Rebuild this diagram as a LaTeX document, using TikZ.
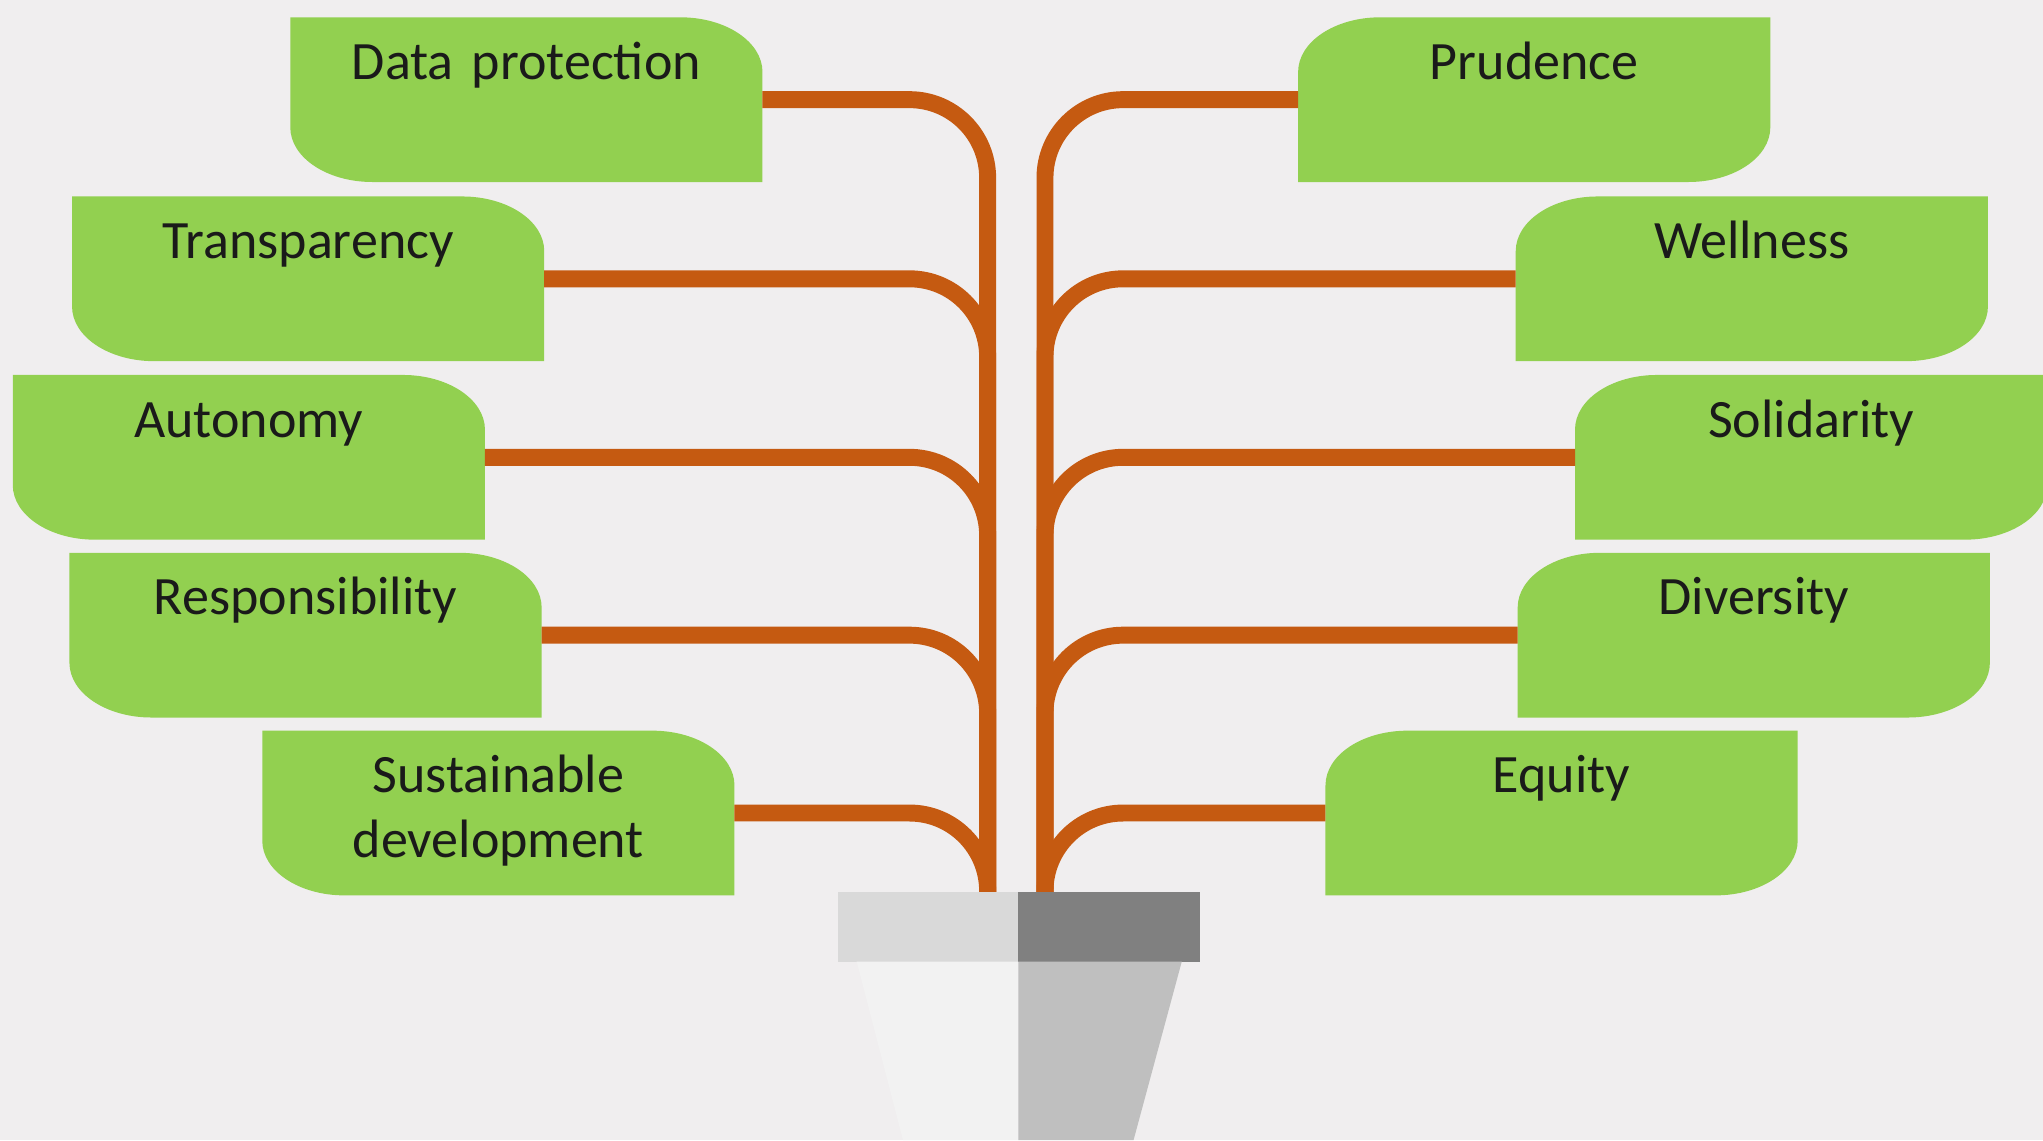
\documentclass[tikz,border=0pt]{standalone}
\usepackage{fontspec}
\setmainfont{Carlito}
\usepackage{tikz}
\usepackage{xcolor}
\usetikzlibrary{backgrounds}

\definecolor{leafgreen}{RGB}{146,208,80}
\definecolor{stemorange}{RGB}{197,90,17}
\definecolor{bgpaper}{RGB}{240,238,239}
\definecolor{leaftext}{RGB}{26,26,26}

\tikzset{
  leaf/.style={inner sep=0pt, text width=3.61cm, align=center,
    text height=0.47cm, text depth=0.78cm, text=leaftext,
    font=\fontsize{11.8}{14.2}\selectfont},
  stem/.style={stemorange, line width=0.13cm, rounded corners=0.6cm},
}

% leaf with round top-right and bottom-left corners
\newcommand\leafleft[1]{\fill[leafgreen] (#1.north west)
  -- ([xshift=-6.3mm]#1.north east) arc[start angle=90, end angle=0, x radius=6.3mm, y radius=4.2mm]
  -- (#1.south east)
  -- ([xshift=6.3mm]#1.south west) arc[start angle=270, end angle=180, x radius=6.3mm, y radius=4.2mm]
  -- cycle;}
% leaf with round top-left and bottom-right corners
\newcommand\leafright[1]{\fill[leafgreen] (#1.north east)
  -- ([yshift=4.2mm]#1.south east) arc[start angle=0, end angle=-90, x radius=6.3mm, y radius=4.2mm]
  -- (#1.south west)
  -- ([yshift=-4.2mm]#1.north west) arc[start angle=180, end angle=90, x radius=6.3mm, y radius=4.2mm]
  -- cycle;}

\begin{document}
\begin{tikzpicture}
\useasboundingbox (0,0) rectangle (15.68,8.75);
% leaves left
\node[leaf] (dp) at (4.04,7.985) {Data protection};
\node[leaf] (tr) at (2.365,6.61) {Transparency};
\node[leaf] (au) at (1.91,5.24) {Autonomy};
\node[leaf] (re) at (2.345,3.875) {Responsibility};
\node[leaf] (sd) at (3.825,2.51) {Sustainable\\development};
% leaves right
\node[leaf] (pr) at (11.775,7.985) {Prudence};
\node[leaf] (we) at (13.445,6.61) {Wellness};
\node[leaf] (so) at (13.90,5.24) {Solidarity};
\node[leaf] (di) at (13.46,3.875) {Diversity};
\node[leaf] (eq) at (11.985,2.51) {Equity};
% leaf shapes
\begin{scope}[on background layer]
\fill[bgpaper] (0,0) rectangle (15.68,8.75);
\leafleft{dp} \leafleft{tr} \leafleft{au} \leafleft{re} \leafleft{sd}
\leafright{pr} \leafright{we} \leafright{so} \leafright{di} \leafright{eq}
\end{scope}
% stems
\coordinate (rootL) at (7.58,1.90);
\coordinate (rootR) at (8.02,1.90);
\draw[stem] (dp.east) -| (rootL);
\draw[stem] (tr.east) -| (rootL);
\draw[stem] (au.east) -| (rootL);
\draw[stem] (re.east) -| (rootL);
\draw[stem] (sd.east) -| (rootL);
\draw[stem] (pr.west) -| (rootR);
\draw[stem] (we.west) -| (rootR);
\draw[stem] (so.west) -| (rootR);
\draw[stem] (di.west) -| (rootR);
\draw[stem] (eq.west) -| (rootR);
% pot
\fill[gray!30] (6.43,1.905) rectangle (7.815,1.37);
\fill[gray!100] (7.815,1.905) rectangle (9.21,1.37);
\fill[gray!10] (6.575,1.37) -- (7.815,1.37) -- (7.815,0) -- (6.93,0) -- cycle;
\fill[gray!50] (7.815,1.37) -- (9.07,1.37) -- (8.70,0) -- (7.815,0) -- cycle;
\end{tikzpicture}
\end{document}
